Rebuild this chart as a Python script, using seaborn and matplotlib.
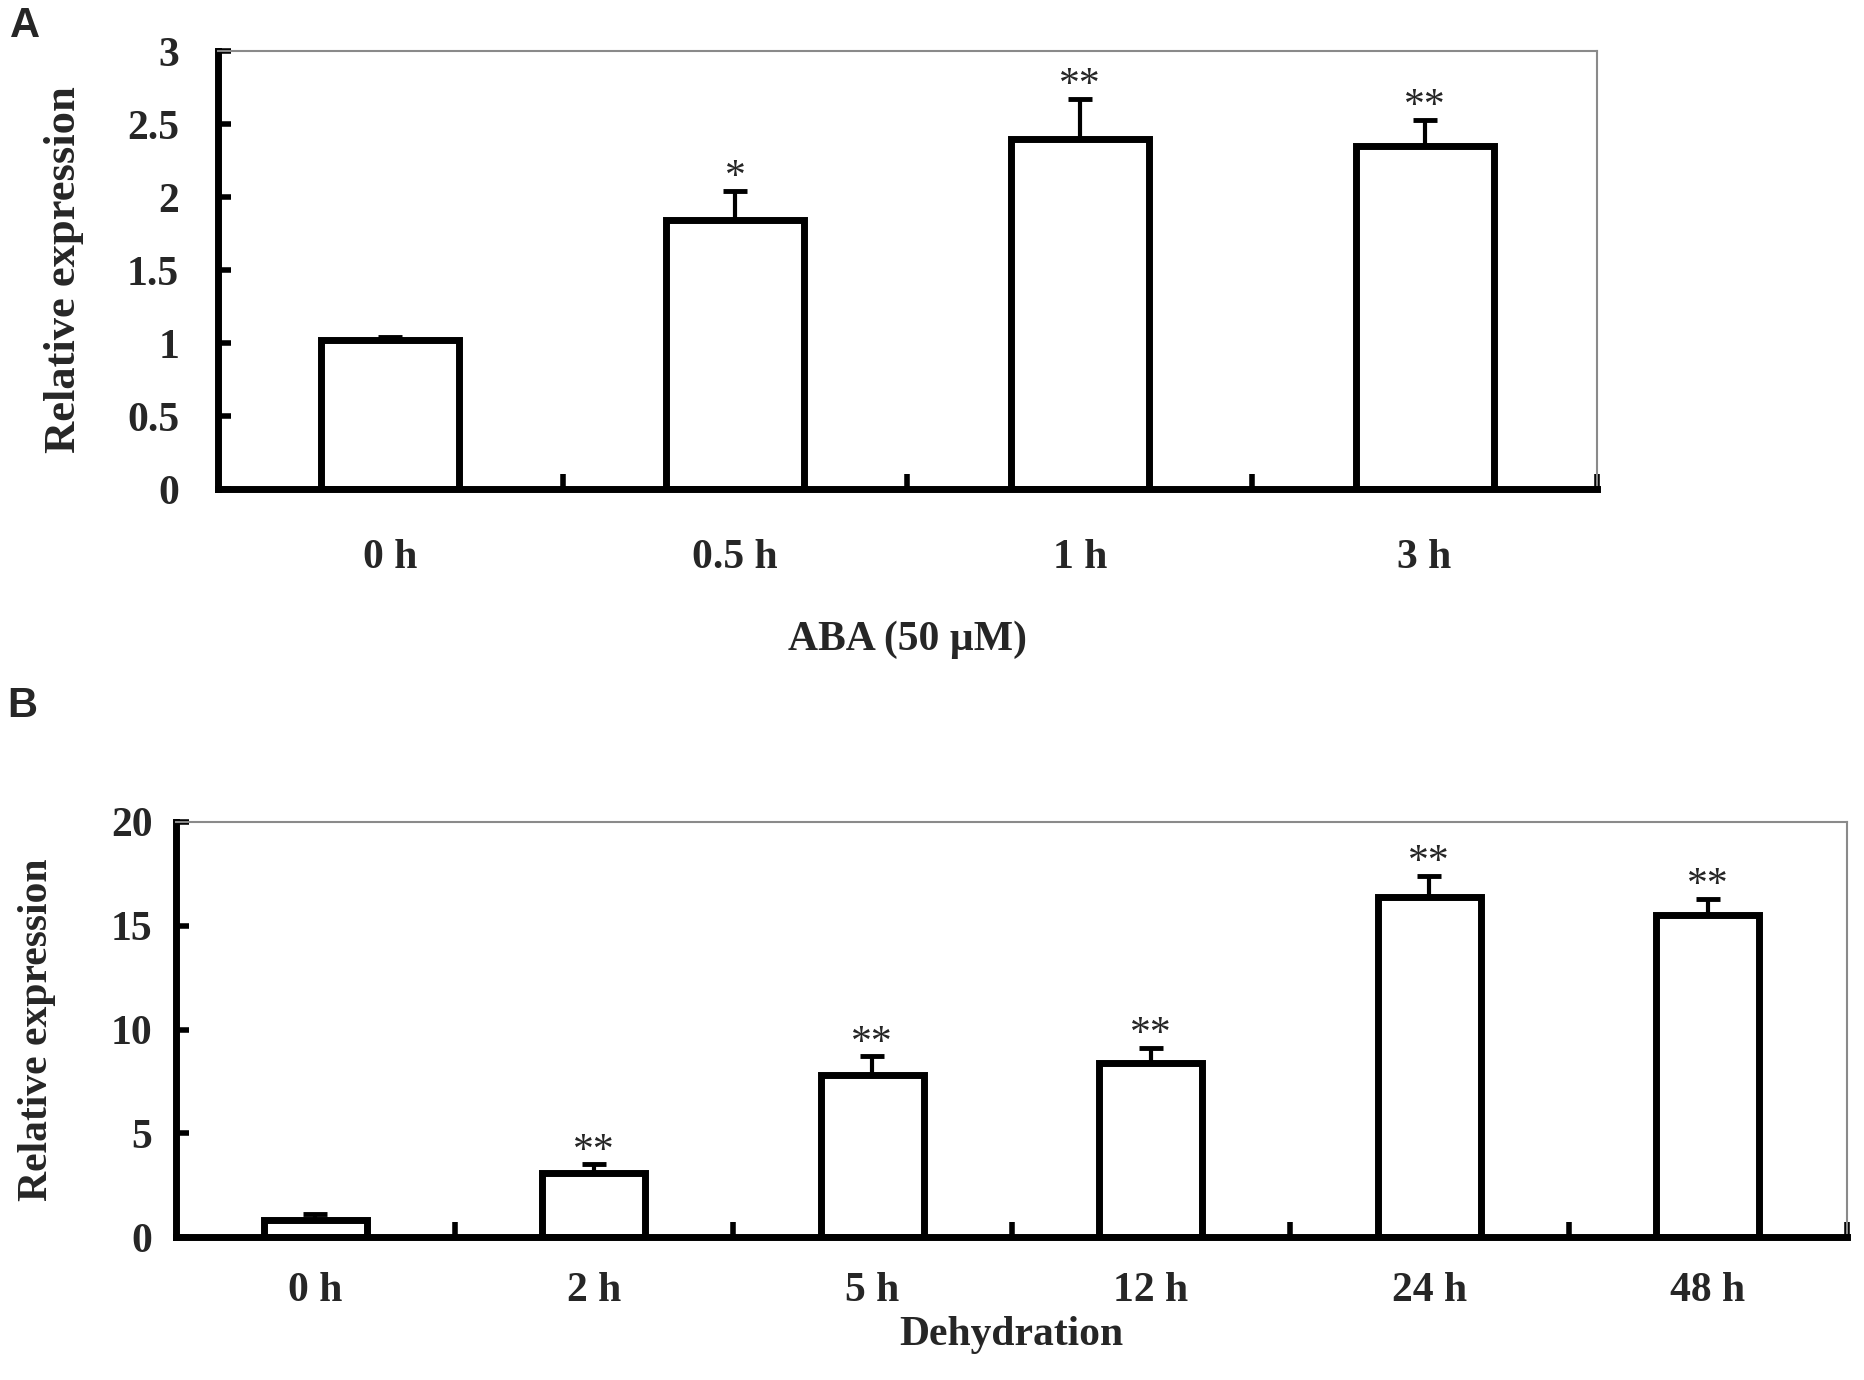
import numpy as np
import pandas as pd
import seaborn as sns
import matplotlib.pyplot as plt
from matplotlib.ticker import FixedLocator, FuncFormatter

# panel A: ABA treatment
aba_times = ["0 h", "0.5 h", "1 h", "3 h"]
aba_mean = [1.02, 1.84, 2.40, 2.35]
aba_err = [0.02, 0.20, 0.27, 0.18]
aba_sig = ["", "*", "**", "**"]

# panel B: dehydration
dry_times = ["0 h", "2 h", "5 h", "12 h", "24 h", "48 h"]
dry_mean = [0.8, 3.1, 7.8, 8.4, 16.4, 15.5]
dry_err = [0.3, 0.4, 0.9, 0.7, 1.0, 0.8]
dry_sig = ["", "**", "**", "**", "**", "**"]

sns.set_style("white")
plt.rcParams["font.family"] = ["Liberation Serif", "DejaVu Serif"]
plt.rcParams["font.weight"] = "bold"

fig = plt.figure(figsize=(18.65, 13.8), dpi=100)
W, H = 1865, 1380
axA = fig.add_axes([218 / W, 1 - 489 / H, (1597 - 218) / W, (489 - 51) / H])
axB = fig.add_axes([176 / W, 1 - 1237 / H, (1847 - 176) / W, (1237 - 822) / H])


def draw(ax, cats, mean, err, sig, ymax, yticks, width, xlabel, ylab_x, ylab_size, xlab_y, xpad, ypad):
    df = pd.DataFrame({"time": cats, "value": mean})
    sns.barplot(data=df, x="time", y="value", order=cats, ax=ax, color="white",
                saturation=1, edgecolor="black", linewidth=5, width=width, errorbar=None)
    x = np.arange(len(cats))
    ax.errorbar(x, mean, yerr=[np.zeros(len(cats)), err], fmt="none", ecolor="black",
                elinewidth=3, capsize=8.5, capthick=3.5)
    for xi, m, e, s in zip(x, mean, err, sig):
        if s:
            ax.annotate(s, (xi, m + e), xytext=(0, 2), textcoords="offset points",
                        ha="center", va="baseline", fontsize=30, fontweight="normal")

    ax.set_xlim(-0.5, len(cats) - 0.5)
    ax.set_ylim(0, ymax)
    ax.set_yticks(yticks)
    ax.yaxis.set_major_formatter(FuncFormatter(lambda v, p: f"{v:g}"))
    ax.xaxis.set_minor_locator(FixedLocator(np.arange(0.5, len(cats), 1)))
    ax.tick_params(axis="x", which="major", bottom=True, length=0, pad=xpad, labelsize=30)
    ax.tick_params(axis="x", which="minor", bottom=True, direction="in", length=11, width=4,
                   color="black")
    ax.tick_params(axis="y", which="major", left=True, direction="in", length=9, width=4,
                   color="black", pad=ypad, labelsize=30)
    for lab in ax.get_xticklabels() + ax.get_yticklabels():
        lab.set_fontweight("bold")

    for side in ["left", "bottom"]:
        ax.spines[side].set_linewidth(5)
        ax.spines[side].set_color("black")
    for side in ["top", "right"]:
        ax.spines[side].set_linewidth(1.5)
        ax.spines[side].set_color("#8a8a8a")

    ax.set_xlabel(xlabel, fontsize=30, fontweight="bold", va="top")
    ax.set_ylabel("Relative expression", fontsize=ylab_size, fontweight="bold")
    ax.yaxis.set_label_coords(ylab_x, 0.5)
    ax.xaxis.set_label_coords(0.5, xlab_y)


draw(axA, aba_times, aba_mean, aba_err, aba_sig, 3, [0, 0.5, 1, 1.5, 2, 2.5, 3], 0.40,
     "ABA (50 \u00b5M)", -0.097, 32, -0.30, 36, 28)
draw(axB, dry_times, dry_mean, dry_err, dry_sig, 20, [0, 5, 10, 15, 20], 0.37,
     "Dehydration", -0.072, 30, -0.19, 25, 17)

fig.text(10 / W, 1 - 6 / H, "A", fontsize=30, fontweight="bold", family="Liberation Sans", va="top")
fig.text(7 / W, 1 - 686 / H, "B", fontsize=30, fontweight="bold", family="Liberation Sans", va="top")

plt.savefig("out.png", dpi=100)
